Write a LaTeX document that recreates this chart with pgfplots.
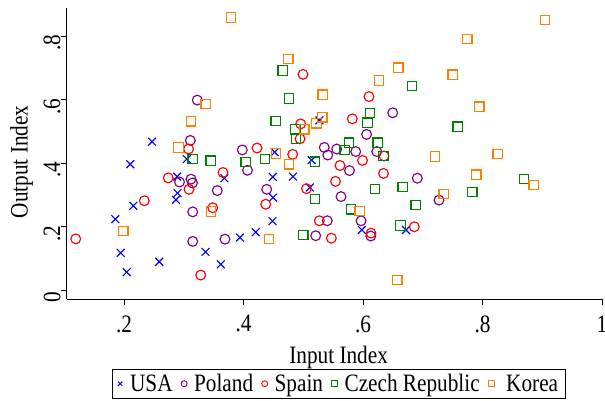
\documentclass[border=0pt]{standalone}
\usepackage{fontspec}
\setmainfont{Liberation Serif}[FakeStretch=0.85]
\usepackage{pgfplots}
\pgfplotsset{compat=1.18}
\definecolor{cusa}{RGB}{0,0,255}
\definecolor{cpol}{RGB}{128,0,128}
\definecolor{cspa}{RGB}{255,0,0}
\definecolor{ccze}{RGB}{0,128,0}
\definecolor{ckor}{RGB}{255,128,0}
\begin{document}
\begin{tikzpicture}[font=\fontsize{25}{29}\selectfont]
\begin{axis}[
 at={(0,0)}, anchor=south west,
 scale only axis, width=535.3pt, height=291.3pt,
 xmin=0.1041, xmax=1.0, ymin=-0.0293, ymax=0.888,
 axis lines=left, axis line style={line width=0.8pt, -},
 xtick={0.2,0.4,0.6,0.8,1}, xticklabels={.2,.4,.6,.8,1},
 ytick={0,0.2,0.4,0.6,0.8}, yticklabels={0,.2,.4,.6,.8},
 tick align=outside, major tick length=6pt,
 tick style={line width=0.8pt, black},
 xticklabel style={anchor=north, inner sep=0pt, yshift=-10pt},
 yticklabel style={rotate=90, anchor=south, inner sep=0pt, xshift=-7pt},
 xlabel={Input Index}, ylabel={Output Index},
 xlabel style={at={(axis description cs:0.508,-0.1586)}, anchor=north, inner sep=0pt},
 ylabel style={at={(axis description cs:-0.1059,0.472)}, anchor=north, inner sep=0pt},
 legend columns=-1,
 legend style={at={(axis description cs:0.508,-0.2393)}, anchor=north,
   draw=black, line width=0.6pt, inner xsep=5pt, inner ysep=3pt,
   font=\fontsize{25}{29}\selectfont,
   /tikz/every even column/.append style={column sep=6.5pt}},
 legend image code/.code={\path[draw=none, fill=none] (-3pt,0) -- (8pt,0); \draw[#1, only marks, mark size=3pt, line width=0.9pt] plot coordinates {(0pt,0pt)};},
 every axis plot/.append style={only marks, line width=1.15pt},
 clip=false,
]
\addplot[color=cusa, mark=x, mark size=5.5pt] coordinates {
(0.2469,0.467) (0.305,0.412) (0.2105,0.396) (0.289,0.357) (0.368,0.352)
(0.2895,0.305) (0.287,0.284) (0.2156,0.265) (0.1854,0.223) (0.1945,0.117)
(0.2045,0.056) (0.259,0.089) (0.3364,0.120) (0.362,0.081) (0.394,0.165)
(0.4204,0.182) (0.4485,0.217) (0.449,0.356) (0.4494,0.291) (0.4522,0.434)
(0.4828,0.357) (0.514,0.409) (0.527,0.534) (0.511,0.323) (0.598,0.189)
(0.672,0.189)};
\addlegendentry{USA}
\addplot[color=cpol, mark=o, mark size=4.9pt] coordinates {
(0.311,0.471) (0.3227,0.598) (0.398,0.441) (0.4067,0.377) (0.2929,0.340)
(0.3121,0.349) (0.3146,0.337) (0.3561,0.313) (0.315,0.246) (0.315,0.153)
(0.369,0.160) (0.4388,0.317) (0.5352,0.449) (0.541,0.425) (0.556,0.444)
(0.5878,0.436) (0.623,0.436) (0.6497,0.558) (0.606,0.490) (0.5774,0.376)
(0.5632,0.294) (0.5402,0.218) (0.5967,0.218) (0.5208,0.171) (0.613,0.170)
(0.6909,0.352) (0.7272,0.283)};
\addlegendentry{Poland}
\addplot[color=cspa, mark=o, mark size=4.9pt] coordinates {
(0.4996,0.679) (0.4957,0.523) (0.4946,0.476) (0.4226,0.447) (0.4823,0.427)
(0.308,0.444) (0.3657,0.370) (0.2741,0.353) (0.3088,0.317) (0.234,0.281)
(0.3485,0.259) (0.1192,0.161) (0.3284,0.047) (0.4372,0.270) (0.5054,0.319)
(0.5615,0.392) (0.554,0.342) (0.5269,0.218) (0.547,0.163) (0.5992,0.408)
(0.6343,0.367) (0.6351,0.422) (0.6134,0.179) (0.6859,0.199) (0.61,0.609)
(0.5821,0.539)};
\addlegendentry{Spain}
\addplot[color=ccze, mark=square, mark size=4.7pt] coordinates {
(0.4656,0.691) (0.4762,0.603) (0.4539,0.532) (0.4867,0.506) (0.4879,0.477)
(0.315,0.413) (0.3451,0.407) (0.4037,0.403) (0.436,0.412) (0.5197,0.404)
(0.5197,0.286) (0.5001,0.173) (0.682,0.643) (0.6117,0.557) (0.6075,0.527)
(0.7585,0.514) (0.5766,0.464) (0.5694,0.441) (0.6246,0.464) (0.6343,0.422)
(0.6201,0.318) (0.6664,0.325) (0.6882,0.268) (0.5799,0.254) (0.6628,0.203)
(0.7829,0.308) (0.8695,0.349)};
\addlegendentry{Czech Republic}
\addplot[color=ckor, mark=square, mark size=4.7pt] coordinates {
(0.3791,0.858) (0.475,0.728) (0.5326,0.615) (0.3367,0.586) (0.3118,0.531)
(0.5319,0.544) (0.5222,0.525) (0.5018,0.506) (0.2912,0.449) (0.4544,0.430)
(0.4762,0.396) (0.3456,0.247) (0.1988,0.186) (0.4427,0.160) (0.9046,0.850)
(0.7746,0.791) (0.6591,0.700) (0.6268,0.660) (0.7501,0.678) (0.7946,0.577)
(0.7205,0.420) (0.8254,0.428) (0.7896,0.363) (0.8857,0.330) (0.7351,0.302)
(0.5945,0.249) (0.6574,0.031)};
\addlegendentry{\hspace{5pt}Korea}
\end{axis}
\pgfresetboundingbox
\path[use as bounding box] (-66.7pt,-101.7pt) rectangle (538.3pt,299.3pt);
\end{tikzpicture}
\end{document}
